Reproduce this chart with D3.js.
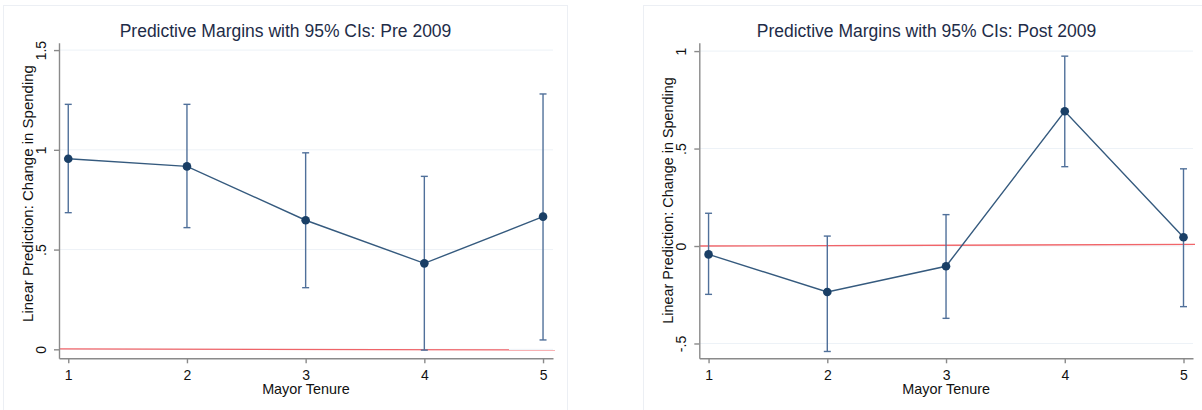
<!DOCTYPE html>
<html>
<head>
<meta charset="utf-8">
<script src="https://cdn.jsdelivr.net/npm/d3@7"></script>
<style>
  html, body { margin: 0; padding: 0; background: #fff; }
  svg { display: block; font-family: "Liberation Sans", Arial, sans-serif; }
  .grid line { stroke: #edf2f7; stroke-width: 1; }
  .axis path, .axis line { stroke: #8a8a8a; stroke-width: 1.4; }
  .axis text { fill: #111; }
  .title { fill: #1e2c48; }
</style>
</head>
<body>
<div id="chart"></div>
<script>
const tenure = [1, 2, 3, 4, 5];

const preMargin = [0.955, 0.917, 0.647, 0.431, 0.665];
const preLower  = [0.685, 0.610, 0.309, -0.004, 0.047];
const preUpper  = [1.228, 1.228, 0.985, 0.867, 1.280];

const postMargin = [-0.043, -0.236, -0.104, 0.691, 0.045];
const postLower  = [-0.248, -0.541, -0.371, 0.407, -0.311];
const postUpper  = [0.168, 0.051, 0.161, 0.974, 0.396];

const preTicks = [0, 0.5, 1, 1.5];
const preTickLabels = ["0", ".5", "1", "1.5"];
const postTicks = [-0.5, 0, 0.5, 1];
const postTickLabels = ["-.5", "0", ".5", "1"];

// red reference line (start / end value, slightly tilted in the original)
const preRefLine = [0.002, -0.003];
const postRefLine = [0.0, 0.008];

const xTitle = "Mayor Tenure";
const yTitle = "Linear Prediction: Change in Spending";

const W = 1202, H = 410;

const svg = d3.select("#chart").append("svg")
  .attr("width", W).attr("height", H);

const panels = [
  {
    title: "Predictive Margins with 95% CIs: Pre 2009",
    margin: preMargin, lower: preLower, upper: preUpper,
    ticks: preTicks, tickLabels: preTickLabels, ref: preRefLine,
    box: { x: 3, y: 5, w: 564, h: 420 },
    plot: { left: 59, right: 553, top: 42.7, bottom: 358.3 },
    xDomain: [0.922, 5.084], yDomain: [-0.045, 1.537],
    titleX: 285.5, yLabelX: 33, yTitleSize: 15, yLabelShift: -7
  },
  {
    title: "Predictive Margins with 95% CIs: Post 2009",
    margin: postMargin, lower: postLower, upper: postUpper,
    ticks: postTicks, tickLabels: postTickLabels, ref: postRefLine,
    box: { x: 643, y: 5, w: 570, h: 420 },
    plot: { left: 699.3, right: 1193, top: 42.7, bottom: 358.3 },
    xDomain: [0.922, 5.08], yDomain: [-0.576, 1.043],
    titleX: 926.5, yLabelX: 673, yTitleSize: 14.4, yLabelShift: 0
  }
];

panels.forEach(drawPanel);

function drawPanel(p) {
  const g = svg.append("g");

  g.append("rect")
    .attr("x", p.box.x + 0.5).attr("y", p.box.y + 0.5)
    .attr("width", p.box.w).attr("height", p.box.h)
    .attr("fill", "#fff")
    .attr("stroke", "#eceff4");

  const x = d3.scaleLinear().domain(p.xDomain).range([p.plot.left, p.plot.right]);
  const y = d3.scaleLinear().domain(p.yDomain).range([p.plot.bottom, p.plot.top]);

  // gridlines
  g.append("g").attr("class", "grid")
    .selectAll("line")
    .data(p.ticks)
    .join("line")
    .attr("x1", p.plot.left).attr("x2", p.plot.right)
    .attr("y1", d => y(d)).attr("y2", d => y(d));

  // red reference line
  g.append("line")
    .attr("x1", x(p.xDomain[0])).attr("x2", x(p.xDomain[1]) + 2)
    .attr("y1", y(p.ref[0])).attr("y2", y(p.ref[1]))
    .attr("stroke", "#ef4a4f")
    .attr("stroke-width", 1.3)
    .attr("stroke-opacity", 0.85);

  // axes
  const yAxis = d3.axisLeft(y)
    .tickValues(p.ticks)
    .tickFormat((d, i) => p.tickLabels[i])
    .tickSize(5).tickSizeOuter(0);

  const ya = g.append("g").attr("class", "axis")
    .attr("transform", `translate(${p.plot.left},0)`)
    .call(yAxis);
  // vertical tick labels, reading upwards like Stata
  ya.selectAll(".tick text")
    .attr("font-size", 14)
    .attr("text-anchor", "middle")
    .attr("x", 0)
    .attr("y", 0)
    .attr("dy", 0)
    .attr("transform", "translate(-13,0) rotate(-90)");

  const xAxis = d3.axisBottom(x)
    .tickValues(tenure)
    .tickFormat(d3.format("d"))
    .tickSize(5).tickSizeOuter(0);

  const xa = g.append("g").attr("class", "axis")
    .attr("transform", `translate(0,${p.plot.bottom})`)
    .call(xAxis);
  xa.selectAll("text").attr("font-size", 14).attr("dy", "0.98em");

  // axis titles
  g.append("text")
    .attr("x", (p.plot.left + p.plot.right) / 2)
    .attr("y", 394)
    .attr("text-anchor", "middle")
    .attr("font-size", 14.4)
    .attr("fill", "#111")
    .text(xTitle);

  g.append("text")
    .attr("transform", `translate(${p.yLabelX},${(p.plot.top + p.plot.bottom) / 2 + p.yLabelShift}) rotate(-90)`)
    .attr("text-anchor", "middle")
    .attr("font-size", p.yTitleSize)
    .attr("fill", "#111")
    .text(yTitle);

  g.append("text")
    .attr("class", "title")
    .attr("x", p.titleX)
    .attr("y", 37)
    .attr("text-anchor", "middle")
    .attr("font-size", 17.5)
    .text(p.title);

  const rows = tenure.map((t, i) => ({
    t, m: p.margin[i], lo: p.lower[i], hi: p.upper[i]
  }));

  // confidence intervals
  const ci = g.append("g")
    .attr("stroke", "#50709a")
    .attr("stroke-width", 1.4)
    .attr("fill", "none");

  ci.append("g").selectAll("line")
    .data(rows)
    .join("line")
    .attr("x1", d => x(d.t)).attr("x2", d => x(d.t))
    .attr("y1", d => y(d.lo)).attr("y2", d => y(d.hi));

  ci.append("g").selectAll("line")
    .data(rows)
    .join("line")
    .attr("x1", d => x(d.t) - 3.5).attr("x2", d => x(d.t) + 3.5)
    .attr("y1", d => y(d.hi)).attr("y2", d => y(d.hi));

  ci.append("g").selectAll("line")
    .data(rows)
    .join("line")
    .attr("x1", d => x(d.t) - 3.5).attr("x2", d => x(d.t) + 3.5)
    .attr("y1", d => y(d.lo)).attr("y2", d => y(d.lo));

  // connecting line
  g.append("path")
    .datum(rows)
    .attr("fill", "none")
    .attr("stroke", "#355a7e")
    .attr("stroke-width", 1.4)
    .attr("d", d3.line().x(d => x(d.t)).y(d => y(d.m)));

  // markers
  g.selectAll(".pt")
    .data(rows)
    .join("circle")
    .attr("cx", d => x(d.t))
    .attr("cy", d => y(d.m))
    .attr("r", 4.3)
    .attr("fill", "#1a3f66");
}
</script>
</body>
</html>
